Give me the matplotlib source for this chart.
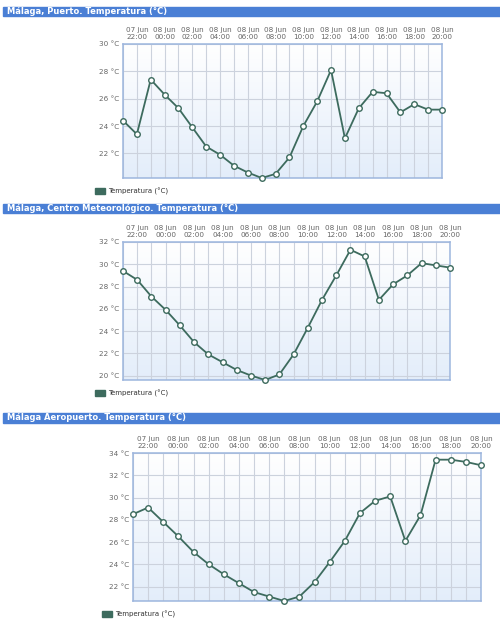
import numpy as np
import matplotlib.pyplot as plt
from matplotlib.patches import Rectangle

W, H = 500, 631

hours = ["07 jun\n22:00", "08 jun\n00:00", "08 jun\n02:00", "08 jun\n04:00",
         "08 jun\n06:00", "08 jun\n08:00", "08 jun\n10:00", "08 jun\n12:00",
         "08 jun\n14:00", "08 jun\n16:00", "08 jun\n18:00", "08 jun\n20:00"]

# hourly temperatures, 07 jun 21:00 -> 08 jun 20:00
puerto = [24.4, 23.4, 27.4, 26.3, 25.3, 23.9, 22.5, 21.9, 21.1, 20.6, 20.2, 20.5,
          21.7, 24.0, 25.8, 28.1, 23.1, 25.3, 26.5, 26.4, 25.0, 25.6, 25.2, 25.2]
centro = [29.4, 28.6, 27.1, 25.9, 24.5, 23.0, 21.9, 21.2, 20.5, 20.0, 19.6, 20.1,
          21.9, 24.3, 26.8, 29.0, 31.3, 30.7, 26.8, 28.2, 29.0, 30.1, 29.9, 29.7]
aeropuerto = [28.5, 29.1, 27.8, 26.5, 25.1, 24.0, 23.1, 22.3, 21.5, 21.1, 20.7, 21.1,
              22.4, 24.2, 26.1, 28.6, 29.7, 30.1, 26.1, 28.4, 33.4, 33.4, 33.2, 32.9]

panels = [
    ("Málaga, Puerto. Temperatura (°C)", puerto, [22, 24, 26, 28, 30],
     (123, 44, 442, 178), (7, 16), (95, 191)),
    ("Málaga, Centro Meteorológico. Temperatura (°C)", centro, [20, 22, 24, 26, 28, 30, 32],
     (123, 242, 450, 380), (204, 213), (95, 393)),
    ("Málaga Aeropuerto. Temperatura (°C)", aeropuerto, [22, 24, 26, 28, 30, 32, 34],
     (133, 453, 481, 601), (413, 423), (102, 614)),
]

line_col = "#3d6b5e"
bar_col = "#4a7fd5"
text_col = "#666666"

fig = plt.figure(figsize=(W / 100, H / 100), dpi=100)

def fx(x): return x / W
def fy(y): return 1 - y / H

grad = np.linspace(0, 1, 256).reshape(-1, 1)
top = np.array([1.0, 1.0, 1.0])
bot = np.array([0.89, 0.93, 0.98])
grad_img = top + (bot - top) * grad[..., None]

for title, vals, yticks, (x0, y0, x1, y1), (b0, b1), (lx, ly) in panels:
    # title bar
    fig.patches.append(Rectangle((fx(3), fy(b1)), fx(W) - fx(3), fy(b0) - fy(b1),
                                 transform=fig.transFigure, color=bar_col, zorder=0))
    fig.text(fx(7), fy((b0 + b1) / 2), title, color="white", fontsize=6,
             fontweight="bold", va="center", ha="left")

    ax = fig.add_axes([fx(x0), fy(y1), fx(x1) - fx(x0), fy(y0) - fy(y1)])
    n = len(vals)
    x = np.arange(n)
    ymin = min(vals)
    ymax = yticks[-1]
    ax.set_xlim(0, n - 1)
    ax.set_ylim(ymin, ymax)
    ax.imshow(grad_img, extent=(0, n - 1, ymin, ymax), aspect="auto", zorder=0)

    for xi in x:
        ax.axvline(xi, color="#ccd2dd", lw=0.8, zorder=1)
    for yt in yticks:
        ax.axhline(yt, color="#ccd2dd", lw=0.8, zorder=1)

    ax.plot(x, vals, color=line_col, lw=1.3, marker="o", ms=4,
            mfc="white", mec=line_col, mew=1.0, zorder=3, clip_on=False)

    ax.xaxis.tick_top()
    ax.set_xticks(x[1::2])
    ax.set_xticklabels(hours, fontsize=5.2, color=text_col, linespacing=1.15)
    ax.set_yticks(yticks)
    ax.set_yticklabels([f"{t} °C" for t in yticks], fontsize=5.2, color=text_col)
    ax.tick_params(length=0, pad=3)
    for s in ax.spines.values():
        s.set_color("#9db6de")
        s.set_linewidth(1.1)

    # legend
    fig.patches.append(Rectangle((fx(lx), fy(ly + 3)), fx(10), fy(0) - fy(6),
                                 transform=fig.transFigure, color=line_col))
    fig.text(fx(lx + 13), fy(ly), "Temperatura (°C)", fontsize=5,
             color="#333333", va="center", ha="left")

fig.savefig("out.png", dpi=100)
